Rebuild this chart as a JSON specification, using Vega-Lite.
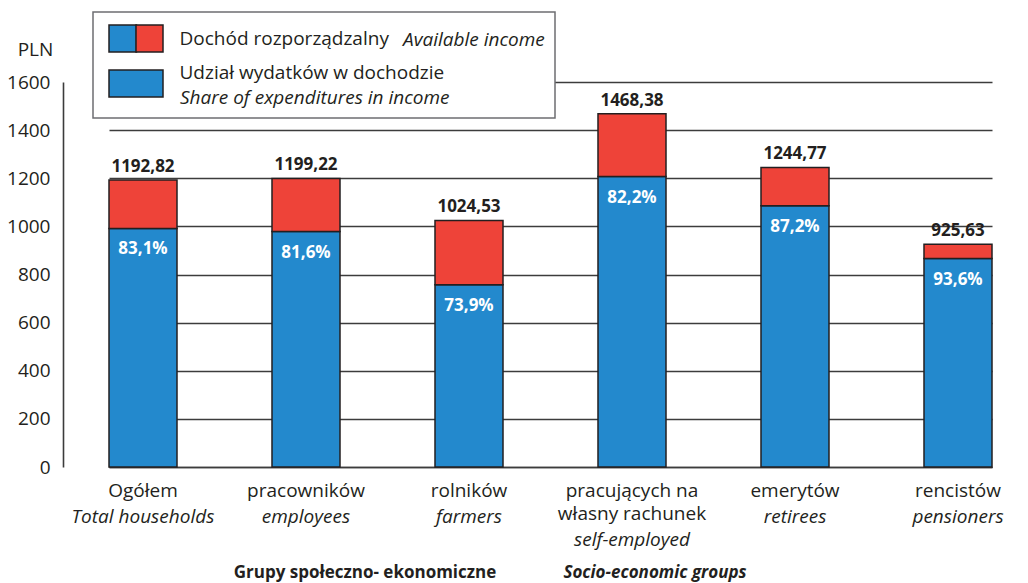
{
  "$schema": "https://vega.github.io/schema/vega-lite/v6.json",
  "width": 965,
  "height": 385,
  "autosize": {"type": "none"},
  "padding": {"left": 63, "top": 82, "right": 0, "bottom": 116},
  "background": "white",
  "config": {
    "view": {"stroke": null},
    "font": "Open Sans",
    "locale": {"number": {"decimal": ",", "thousands": " ", "grouping": [3], "currency": ["", " zł"]}}
  },
  "data": {
    "values": [
      {"grupa": "Ogółem", "dochod": 1192.82, "wydatki": 991.2, "udzial": 0.831},
      {"grupa": "pracowników", "dochod": 1199.22, "wydatki": 978.6, "udzial": 0.816},
      {"grupa": "rolników", "dochod": 1024.53, "wydatki": 757.1, "udzial": 0.739},
      {"grupa": "pracujących na własny rachunek", "dochod": 1468.38, "wydatki": 1207.0, "udzial": 0.822},
      {"grupa": "emerytów", "dochod": 1244.77, "wydatki": 1085.4, "udzial": 0.872},
      {"grupa": "rencistów", "dochod": 925.63, "wydatki": 866.4, "udzial": 0.936}
    ]
  },
  "layer": [
    {
      "mark": {"type": "text", "font": "Open Sans", "fontSize": 17, "fontWeight": "bold", "baseline": "middle", "align": "center", "dy": -13},
      "encoding": {
        "x": {
          "field": "grupa", "type": "nominal", "sort": null,
          "scale": {"range": [46, 929], "paddingInner": 0.5828, "paddingOuter": 0},
          "axis": {
            "orient": "bottom", "title": "Socio-economic groups",
            "labelExpr": "datum.value === 'Ogółem' ? 'Total households' : datum.value === 'pracowników' ? 'employees' : datum.value === 'rolników' ? 'farmers' : datum.value === 'emerytów' ? 'retirees' : datum.value === 'rencistów' ? 'pensioners' : ['', 'self-employed']",
            "labelAngle": 0, "labelFont": "Open Sans", "labelFontSize": 19, "labelFontStyle": "italic", "labelColor": "#231f20",
            "labelPadding": 40, "labelLineHeight": 23, "labelLimit": 400, "ticks": false, "domain": false, "grid": false,
            "titleFont": "Open Sans", "titleFontSize": 17, "titleFontWeight": "bold", "titleFontStyle": "italic", "titleColor": "#231f20",
            "titleX": 591.5, "titleY": 110, "titleAlign": "center", "titleBaseline": "alphabetic"
          }
        },
        "y": {
          "field": "dochod", "type": "quantitative",
          "scale": {"domain": [0, 1600], "nice": false},
          "axis": {
            "title": "PLN", "titleAngle": 0, "titleX": -28, "titleY": -27, "titleAlign": "center", "titleBaseline": "alphabetic",
            "titleFont": "Open Sans", "titleFontSize": 19, "titleFontWeight": "normal", "titleColor": "#231f20",
            "values": [0, 200, 400, 600, 800, 1000, 1200, 1400, 1600], "format": "d",
            "labelFont": "Open Sans", "labelFontSize": 19, "labelColor": "#231f20", "labelPadding": 13,
            "ticks": false, "domain": true, "domainColor": "#3c3c3c", "domainWidth": 1.6,
            "grid": true, "gridColor": "#3c3c3c", "gridWidth": 1.6
          }
        },
        "text": {"field": "dochod", "type": "quantitative", "format": ".2f"},
        "color": {
          "datum": "Share of expenditures in income", "type": "nominal",
          "scale": {"domain": ["Available income", "Share of expenditures in income"], "range": ["#2389CD", "#231f20"]},
          "legend": {
            "orient": "none", "legendX": 30, "legendY": -70, "title": null, "padding": 10,
            "symbolOpacity": 1, "symbolStrokeWidth": 1.5, "symbolStrokeColor": "#231f20", "symbolSize": 100, "symbolOffset": 0,
            "labelOffset": 58, "labelFont": "Open Sans", "labelFontSize": 19, "labelFontStyle": "italic", "labelColor": "#231f20", "labelLimit": 500,
            "rowPadding": 33, "fillColor": "white", "strokeColor": "#6d6e71",
            "encode": {
              "symbols": {"update": {
                "shape": [{"test": "datum.index === 0", "value": "M-0.7,-1.3H4.8V4.1H-0.7Z"}, {"value": "M0,0H0.1V0.1H0Z"}],
                "opacity": [{"test": "datum.index === 0", "value": 1}, {"value": 0}]
              }},
              "labels": {"update": {
                "dx": [{"test": "datum.index === 0", "value": 223}, {"value": 0}],
                "dy": [{"test": "datum.index === 0", "value": 8.5}, {"value": 0}]
              }},
              "legend": {"update": {"strokeWidth": {"value": 1.5}}}
            }
          }
        }
      }
    },
    {
      "encoding": {
        "x": {
          "field": "grupa", "type": "nominal", "sort": null,
          "scale": {"range": [46, 929], "paddingInner": 0.5828, "paddingOuter": 0},
          "axis": {
            "orient": "bottom", "title": "Grupy społeczno- ekonomiczne",
            "labelExpr": "datum.value === 'pracujących na własny rachunek' ? ['pracujących na', 'własny rachunek'] : datum.value",
            "labelAngle": 0, "labelFont": "Open Sans", "labelFontSize": 19, "labelColor": "#231f20",
            "labelPadding": 14, "labelLineHeight": 23, "labelLimit": 400, "ticks": false,
            "domain": true, "domainColor": "#3c3c3c", "domainWidth": 1.6, "grid": false,
            "titleFont": "Open Sans", "titleFontSize": 17, "titleFontWeight": "bold", "titleColor": "#231f20",
            "titleX": 301.5, "titleY": 110, "titleAlign": "center", "titleBaseline": "alphabetic"
          }
        }
      },
      "layer": [
        {
          "mark": {"type": "bar", "stroke": "#231f20", "strokeWidth": 1.5},
          "encoding": {
            "y": {
              "field": "wydatki", "type": "quantitative",
              "scale": {"domain": [0, 1600], "nice": false},
              "axis": {
                "title": "PLN", "titleAngle": 0, "titleX": -28, "titleY": -27, "titleAlign": "center", "titleBaseline": "alphabetic",
                "titleFont": "Open Sans", "titleFontSize": 19, "titleFontWeight": "normal", "titleColor": "#231f20",
                "values": [0, 200, 400, 600, 800, 1000, 1200, 1400, 1600], "format": "d",
                "labelFont": "Open Sans", "labelFontSize": 19, "labelColor": "#231f20", "labelPadding": 13,
                "ticks": false, "domain": true, "domainColor": "#3c3c3c", "domainWidth": 1.6,
                "grid": true, "gridColor": "#3c3c3c", "gridWidth": 1.6
              }
            },
            "color": {
              "datum": "Udział wydatków w dochodzie", "type": "nominal",
              "scale": {"domain": ["Dochód rozporządzalny", "Udział wydatków w dochodzie"], "range": ["#EE4339", "#2389CD"]},
              "legend": {
                "orient": "none", "legendX": 46, "legendY": -58, "title": null, "padding": 0,
                "symbolType": "M-2,-1H2V1H-2Z", "symbolSize": 729, "symbolStrokeColor": "#231f20", "symbolStrokeWidth": 1.5,
                "symbolOffset": 12.5, "symbolOpacity": 1,
                "labelOffset": 29, "labelFont": "Open Sans", "labelFontSize": 19, "labelColor": "#231f20", "labelLimit": 500,
                "rowPadding": 9,
                "encode": {
                  "symbols": {"update": {
                    "shape": [{"test": "datum.index === 0", "value": "M0,-1H2V1H0Z"}, {"value": "M-2,-1H2V1H-2Z"}]
                  }},
                  "labels": {"update": {
                    "dy": [{"test": "datum.index === 1", "value": -10.5}, {"value": 0}]
                  }}
                }
              }
            }
          }
        },
        {
          "mark": {"type": "bar", "stroke": "#231f20", "strokeWidth": 1.5},
          "encoding": {
            "y": {
              "field": "wydatki", "type": "quantitative",
              "scale": {"domain": [0, 1600], "nice": false},
              "axis": {
                "title": "PLN", "titleAngle": 0, "titleX": -28, "titleY": -27, "titleAlign": "center", "titleBaseline": "alphabetic",
                "titleFont": "Open Sans", "titleFontSize": 19, "titleFontWeight": "normal", "titleColor": "#231f20",
                "values": [0, 200, 400, 600, 800, 1000, 1200, 1400, 1600], "format": "d",
                "labelFont": "Open Sans", "labelFontSize": 19, "labelColor": "#231f20", "labelPadding": 13,
                "ticks": false, "domain": true, "domainColor": "#3c3c3c", "domainWidth": 1.6,
                "grid": true, "gridColor": "#3c3c3c", "gridWidth": 1.6
              }
            },
            "y2": {"field": "dochod"},
            "color": {
              "datum": "Dochód rozporządzalny", "type": "nominal",
              "scale": {"domain": ["Dochód rozporządzalny", "Udział wydatków w dochodzie"], "range": ["#EE4339", "#2389CD"]}
            }
          }
        }
      ]
    },
    {
      "mark": {"type": "text", "font": "Open Sans", "fontSize": 17, "fontWeight": "bold", "baseline": "middle", "align": "center", "dy": 21, "fill": "white"},
      "encoding": {
        "x": {
          "field": "grupa", "type": "nominal", "sort": null,
          "scale": {"range": [46, 929], "paddingInner": 0.5828, "paddingOuter": 0},
          "axis": null
        },
        "y": {
          "field": "wydatki", "type": "quantitative",
          "scale": {"domain": [0, 1600], "nice": false},
          "axis": {
            "title": "PLN", "titleAngle": 0, "titleX": -28, "titleY": -27, "titleAlign": "center", "titleBaseline": "alphabetic",
            "titleFont": "Open Sans", "titleFontSize": 19, "titleFontWeight": "normal", "titleColor": "#231f20",
            "values": [0, 200, 400, 600, 800, 1000, 1200, 1400, 1600], "format": "d",
            "labelFont": "Open Sans", "labelFontSize": 19, "labelColor": "#231f20", "labelPadding": 13,
            "ticks": false, "domain": true, "domainColor": "#3c3c3c", "domainWidth": 1.6,
            "grid": true, "gridColor": "#3c3c3c", "gridWidth": 1.6
          }
        },
        "text": {"field": "udzial", "type": "quantitative", "format": ".1%"}
      }
    }
  ],
  "resolve": {
    "scale": {"color": "independent"},
    "legend": {"color": "independent"},
    "axis": {"x": "independent"}
  }
}
